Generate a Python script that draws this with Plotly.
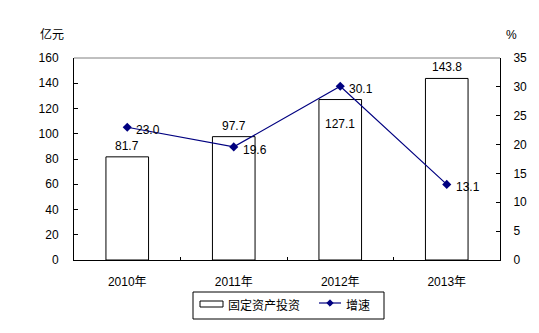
import plotly.graph_objects as go

# Fixed-asset investment (100 million yuan) and year-on-year growth (%)
years = ["2010年", "2011年", "2012年", "2013年"]
investment = [81.7, 97.7, 127.1, 143.8]
growth = [23.0, 19.6, 30.1, 13.1]
left_ticks = [0, 20, 40, 60, 80, 100, 120, 140, 160]
right_ticks = [0, 5, 10, 15, 20, 25, 30, 35]

FONT = "Liberation Sans, Arial, Noto Sans CJK SC, sans-serif"
NAVY = "#000080"
FS = 12

fig = go.Figure()

fig.add_trace(go.Bar(
    x=years, y=investment, name="固定资产投资",
    width=0.4,
    marker=dict(color="white", line=dict(color="black", width=1)),
    showlegend=False,
))

fig.add_trace(go.Scatter(
    x=years, y=growth, name="增速", yaxis="y2",
    mode="lines+markers",
    line=dict(color=NAVY, width=1.2),
    marker=dict(symbol="diamond", size=7, color=NAVY),
    cliponaxis=False,
    showlegend=False,
))

# bar value labels: above the bar, except the third which sits just inside
bar_label_anchor = ["bottom", "bottom", "top", "bottom"]
bar_label_shift = [2, 2, -15, 2]
for yr, v, a, s in zip(years, investment, bar_label_anchor, bar_label_shift):
    fig.add_annotation(
        x=yr, y=v, yref="y", text=f"{v:.1f}", showarrow=False,
        xanchor="center", yanchor=a, yshift=s,
        font=dict(family=FONT, size=FS, color="black"),
    )

# growth value labels to the right of each point
for yr, g in zip(years, growth):
    fig.add_annotation(
        x=yr, y=g, yref="y2", text=f"{g:.1f}", showarrow=False,
        xanchor="left", yanchor="middle", xshift=7, yshift=-3,
        font=dict(family=FONT, size=FS, color="black"),
    )

fig.update_layout(
    width=539, height=333,
    margin=dict(l=74, r=39, t=58, b=73),
    paper_bgcolor="white", plot_bgcolor="white",
    font=dict(family=FONT, size=FS, color="black"),
    xaxis=dict(
        type="category", showline=True, linecolor="black", linewidth=1,
        ticks="inside", ticklen=3, tickcolor="black", tickson="boundaries",
        showgrid=False, tickfont=dict(size=FS), ticklabelstandoff=11,
    ),
    yaxis=dict(
        range=[0, 160], tickvals=left_ticks, showline=True, linecolor="black",
        linewidth=1, ticks="inside", ticklen=4, tickcolor="black",
        showgrid=False, zeroline=False, tickfont=dict(size=FS),
        ticklabelstandoff=12,
    ),
    yaxis2=dict(
        range=[0, 35], tickvals=right_ticks, overlaying="y", side="right",
        showline=True, linecolor="black", linewidth=1, ticks="inside",
        ticklen=4, tickcolor="black", showgrid=False, zeroline=False,
        tickfont=dict(size=FS), ticklabelstandoff=10,
    ),
    showlegend=False,
)

# top border of the plot area
fig.add_shape(type="line", xref="paper", yref="paper", x0=0, x1=1, y0=1, y1=1,
              line=dict(color="#808080", width=1))

pw, ph = 539 - 74 - 39, 333 - 58 - 73


def px(x):
    return (x - 74) / pw


def py(y):
    return (260 - y) / ph


# axis unit titles
fig.add_annotation(xref="paper", yref="paper", x=px(52), y=py(35), text="亿元",
                   showarrow=False, xanchor="center", yanchor="middle",
                   font=dict(family=FONT, size=FS))
fig.add_annotation(xref="paper", yref="paper", x=px(511), y=py(35), text="%",
                   showarrow=False, xanchor="center", yanchor="middle",
                   font=dict(family=FONT, size=FS))

# legend box
fig.add_shape(type="rect", xref="paper", yref="paper",
              x0=px(193), x1=px(384), y0=py(319), y1=py(292),
              line=dict(color="black", width=1), fillcolor="white")
fig.add_shape(type="rect", xref="paper", yref="paper",
              x0=px(200), x1=px(223), y0=py(307), y1=py(301),
              line=dict(color="black", width=1), fillcolor="white")
fig.add_annotation(xref="paper", yref="paper", x=px(226), y=py(305.5),
                   text="固定资产投资", showarrow=False, xanchor="left",
                   yanchor="middle", font=dict(family=FONT, size=FS))
fig.add_shape(type="line", xref="paper", yref="paper",
              x0=px(319), x1=px(341), y0=py(303), y1=py(303),
              line=dict(color=NAVY, width=1.2))
cx, cy = px(330), py(303)
dx, dy = 3.2 / pw, 3.2 / ph
fig.add_shape(type="path", xref="paper", yref="paper",
              path=f"M {cx - dx} {cy} L {cx} {cy + dy} L {cx + dx} {cy} L {cx} {cy - dy} Z",
              line=dict(color=NAVY, width=1), fillcolor=NAVY)
fig.add_annotation(xref="paper", yref="paper", x=px(344), y=py(305.5),
                   text="增速", showarrow=False, xanchor="left",
                   yanchor="middle", font=dict(family=FONT, size=FS))

fig.write_html("out.html")
